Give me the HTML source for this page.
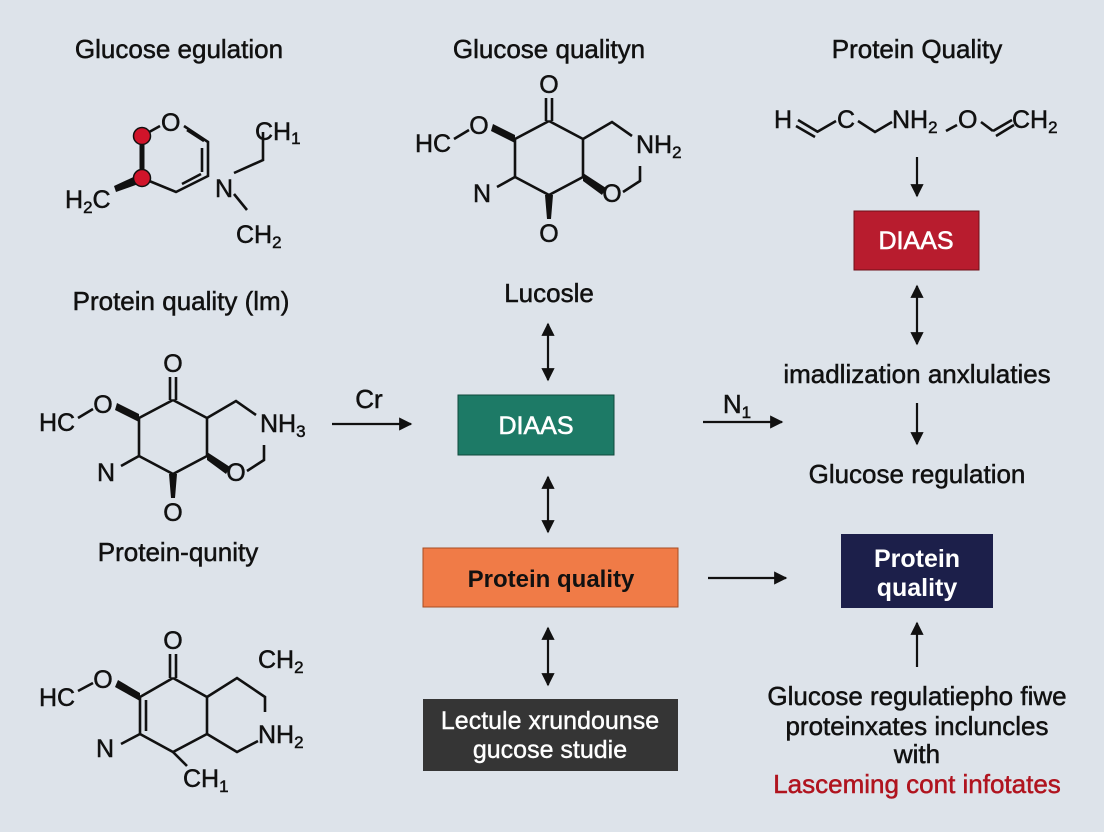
<!DOCTYPE html>
<html><head><meta charset="utf-8"><style>
html,body{margin:0;padding:0;background:#dde3ea;}
svg{display:block;font-family:"Liberation Sans",Arial,sans-serif;}
.t{stroke:#111;stroke-width:0.5;}
</style></head><body>
<svg width="1104" height="832" viewBox="0 0 1104 832" xmlns="http://www.w3.org/2000/svg">
<defs>
<marker id="ah" viewBox="0 0 10 10" refX="9" refY="5" markerWidth="6" markerHeight="6" orient="auto-start-reverse"><path d="M0,0L10,5L0,10z" fill="#111"/></marker>
<g id="mol">
 <g stroke="#111" stroke-width="2.6" fill="none">
  <polyline points="549,121 583,139 583,177 549,195 515,177 515,139 549,121"/>
  <line x1="546" y1="121" x2="546" y2="98"/><line x1="552" y1="121" x2="552" y2="98"/>
  <line x1="454" y1="139" x2="469" y2="130"/>
  <line x1="515" y1="177" x2="497" y2="187"/>
  <polyline points="583,139 612,122 632,136"/>
  <polyline points="623,192 640,181 640,166"/>
 </g>
 <polygon points="515,135 515,143 491,131 493,124" fill="#111"/>
 <polygon points="545,195 553,195 551,219 547,219" fill="#111"/>
 <polygon points="583,173 583,181 602,195 606,188" fill="#111"/>
 <g font-size="25" fill="#111" class="t">
  <text x="549" y="93" text-anchor="middle">O</text>
  <text x="479" y="134" text-anchor="middle">O</text>
  <text x="415" y="152">HC</text>
  <text x="482" y="202" text-anchor="middle">N</text>
  <text x="549" y="242" text-anchor="middle">O</text>
  <text x="612" y="202" text-anchor="middle">O</text>
 </g>
</g>
</defs>
<rect x="0" y="0" width="1104" height="832" rx="14" fill="#dde3ea"/>

<g font-size="26" fill="#111" text-anchor="middle" class="t">
<text x="179" y="58">Glucose egulation</text>
<text x="549" y="58">Glucose qualityn</text>
<text x="917" y="58">Protein Quality</text>
<text x="181" y="310">Protein quality (lm)</text>
<text x="549" y="302">Lucosle</text>
<text x="917" y="383">imadlization anxlulaties</text>
<text x="917" y="483">Glucose regulation</text>
<text x="178" y="561">Protein-qunity</text>
<text x="369" y="408">Cr</text>
<text x="737" y="413">N<tspan font-size="17" dy="5">1</tspan></text>
<text x="917" y="705">Glucose regulatiepho fiwe</text>
<text x="917" y="735">proteinxates incluncles</text>
<text x="917" y="763">with</text>
<text x="917" y="793" fill="#b0141f" stroke="#b0141f">Lasceming cont infotates</text>
</g>

<g stroke="#111" stroke-width="2.6" fill="none">
 <polyline points="142,136 160,126"/>
 <polyline points="184,126 208,142 208,176 176,192 142,178"/>
 <line x1="202" y1="148" x2="202" y2="172"/>
 <line x1="182" y1="184" x2="201" y2="174"/>
 <line x1="187" y1="130" x2="204" y2="141"/>
 <polyline points="234,173 263,160 263,132"/>
 <line x1="234" y1="194" x2="247" y2="210"/>
</g>
<line x1="142" y1="136" x2="142" y2="178" stroke="#111" stroke-width="5"/>
<polygon points="140,174 144,182 116,192 114,186" fill="#111"/>
<circle cx="142" cy="136" r="8.5" fill="#d0142a" stroke="#111" stroke-width="1.5"/>
<circle cx="142" cy="178" r="8.5" fill="#d0142a" stroke="#111" stroke-width="1.5"/>
<g font-size="25" fill="#111" class="t">
 <text x="161" y="131">O</text>
 <text x="65" y="208">H<tspan font-size="17" dy="5">2</tspan><tspan dy="-5">C</tspan></text>
 <text x="215" y="197">N</text>
 <text x="255" y="140">CH<tspan font-size="17" dy="4">1</tspan></text>
 <text x="236" y="243">CH<tspan font-size="17" dy="5">2</tspan></text>
</g>

<use href="#mol"/>
<text x="636" y="153" font-size="25" fill="#111" class="t">NH<tspan font-size="17" dy="5">2</tspan></text>

<use href="#mol" transform="translate(-376,279)"/>
<text x="260" y="432" font-size="25" fill="#111" class="t">NH<tspan font-size="17" dy="5">3</tspan></text>

<g stroke="#111" stroke-width="2.6" fill="none">
 <polyline points="173,678 207,697 207,734 173,752 140,734 140,697 173,678"/>
 <line x1="146" y1="700" x2="146" y2="731"/>
 <line x1="170" y1="678" x2="170" y2="654"/><line x1="176" y1="678" x2="176" y2="654"/>
 <line x1="78" y1="691" x2="93" y2="683"/>
 <line x1="140" y1="734" x2="121" y2="744"/>
 <line x1="173" y1="752" x2="187" y2="766"/>
 <polyline points="207,697 237,678 265,697 265,712"/>
 <polyline points="207,734 237,752 258,741"/>
</g>
<polygon points="140,693 140,701 115,687 118,680" fill="#111"/>
<g font-size="25" fill="#111" class="t">
 <text x="173" y="649" text-anchor="middle">O</text>
 <text x="103" y="688" text-anchor="middle">O</text>
 <text x="39" y="706">HC</text>
 <text x="105" y="757" text-anchor="middle">N</text>
 <text x="258" y="743">NH<tspan font-size="17" dy="5">2</tspan></text>
 <text x="258" y="668">CH<tspan font-size="17" dy="5">2</tspan></text>
 <text x="183" y="787">CH<tspan font-size="17" dy="5">1</tspan></text>
</g>

<g stroke="#111" stroke-width="2.6" fill="none">
 <line x1="798" y1="120" x2="818" y2="132"/><line x1="796" y1="126" x2="815" y2="137"/>
 <line x1="817" y1="132" x2="836" y2="121"/>
 <polyline points="858,121 875,132 892,122"/>
 <line x1="946" y1="131" x2="957" y2="125"/>
 <line x1="981" y1="122" x2="993" y2="131"/>
 <line x1="993" y1="131" x2="1012" y2="120"/><line x1="996" y1="136" x2="1014" y2="125"/>
</g>
<g font-size="25" fill="#111" class="t">
 <text x="774" y="128">H</text>
 <text x="837" y="128">C</text>
 <text x="892" y="128">NH<tspan font-size="17" dy="5">2</tspan></text>
 <text x="958" y="128">O</text>
 <text x="1012" y="128">CH<tspan font-size="17" dy="5">2</tspan></text>
</g>

<rect x="458" y="395" width="156" height="60" fill="#1d7a66" stroke="#0f4a3c" stroke-width="1"/>
<text x="536" y="434" font-size="25" fill="#fff" text-anchor="middle" stroke="#fff" stroke-width="0.6">DIAAS</text>
<rect x="423" y="548" width="255" height="59" fill="#f07b47" stroke="#a84d23" stroke-width="1"/>
<text x="551" y="587" font-size="24" fill="#111" font-weight="bold" text-anchor="middle">Protein quality</text>
<rect x="423" y="699" width="255" height="72" fill="#353535"/>
<text x="550" y="729" font-size="25" fill="#fff" text-anchor="middle" stroke="#fff" stroke-width="0.4">Lectule xrundounse</text>
<text x="550" y="758" font-size="25" fill="#fff" text-anchor="middle" stroke="#fff" stroke-width="0.4">gucose studie</text>
<rect x="854" y="211" width="125" height="59" fill="#b81c2e" stroke="#6e0f18" stroke-width="1"/>
<text x="916" y="249" font-size="25" fill="#fff" text-anchor="middle" stroke="#fff" stroke-width="0.6">DIAAS</text>
<rect x="841" y="534" width="152" height="74" fill="#1c1f4a"/>
<text x="917" y="567" font-size="25" fill="#fff" font-weight="bold" text-anchor="middle">Protein</text>
<text x="917" y="596" font-size="25" fill="#fff" font-weight="bold" text-anchor="middle">quality</text>

<g stroke="#111" stroke-width="2.2" fill="none">
 <line x1="548" y1="324" x2="548" y2="380" marker-start="url(#ah)" marker-end="url(#ah)"/>
 <line x1="548" y1="477" x2="548" y2="532" marker-start="url(#ah)" marker-end="url(#ah)"/>
 <line x1="548" y1="628" x2="548" y2="685" marker-start="url(#ah)" marker-end="url(#ah)"/>
 <line x1="917" y1="286" x2="917" y2="344" marker-start="url(#ah)" marker-end="url(#ah)"/>
 <line x1="917" y1="157" x2="917" y2="196" marker-end="url(#ah)"/>
 <line x1="917" y1="403" x2="917" y2="444" marker-end="url(#ah)"/>
 <line x1="917" y1="667" x2="917" y2="623" marker-end="url(#ah)"/>
 <line x1="332" y1="424" x2="411" y2="424" marker-end="url(#ah)"/>
 <line x1="703" y1="422" x2="782" y2="422" marker-end="url(#ah)"/>
 <line x1="708" y1="578" x2="786" y2="578" marker-end="url(#ah)"/>
</g>
</svg>
</body></html>
